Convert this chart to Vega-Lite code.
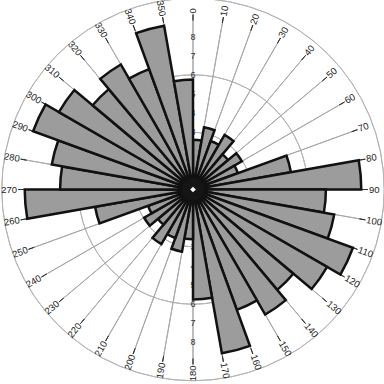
{
  "$schema": "https://vega.github.io/schema/vega-lite/v6.json",
  "width": 382,
  "height": 379,
  "autosize": {"type": "none"},
  "padding": {"left": 2, "top": 0, "right": 0, "bottom": 5},
  "background": "white",
  "config": {"view": {"stroke": null}},
  "datasets": {
    "bins": [
      {"start": 0, "end": 10, "value": 2.6},
      {"start": 10, "end": 20, "value": 3.3},
      {"start": 20, "end": 30, "value": 2.7},
      {"start": 30, "end": 40, "value": 3.3},
      {"start": 40, "end": 50, "value": 2.4},
      {"start": 50, "end": 60, "value": 2.95},
      {"start": 60, "end": 70, "value": 2.5},
      {"start": 70, "end": 80, "value": 5.2},
      {"start": 80, "end": 90, "value": 8.8},
      {"start": 90, "end": 100, "value": 6.95},
      {"start": 100, "end": 110, "value": 7.5},
      {"start": 110, "end": 120, "value": 8.9},
      {"start": 120, "end": 130, "value": 8.1},
      {"start": 130, "end": 140, "value": 6.85},
      {"start": 140, "end": 150, "value": 7.55},
      {"start": 150, "end": 160, "value": 6.7},
      {"start": 160, "end": 170, "value": 8.7},
      {"start": 170, "end": 180, "value": 5.75},
      {"start": 180, "end": 190, "value": 2.6},
      {"start": 190, "end": 200, "value": 3.3},
      {"start": 200, "end": 210, "value": 2.7},
      {"start": 210, "end": 220, "value": 3.3},
      {"start": 220, "end": 230, "value": 2.4},
      {"start": 230, "end": 240, "value": 2.95},
      {"start": 240, "end": 250, "value": 2.5},
      {"start": 250, "end": 260, "value": 5.2},
      {"start": 260, "end": 270, "value": 8.8},
      {"start": 270, "end": 280, "value": 6.95},
      {"start": 280, "end": 290, "value": 7.5},
      {"start": 290, "end": 300, "value": 8.9},
      {"start": 300, "end": 310, "value": 8.1},
      {"start": 310, "end": 320, "value": 6.85},
      {"start": 320, "end": 330, "value": 7.55},
      {"start": 330, "end": 340, "value": 6.7},
      {"start": 340, "end": 350, "value": 8.7},
      {"start": 350, "end": 360, "value": 5.75}
    ],
    "rings": [{"r": 1}, {"r": 2}, {"r": 3}, {"r": 4}, {"r": 5}, {"r": 6}, {"r": 7}, {"r": 8}],
    "spokes": [
      {"angle": 0}, {"angle": 10}, {"angle": 20}, {"angle": 30}, {"angle": 40}, {"angle": 50},
      {"angle": 60}, {"angle": 70}, {"angle": 80}, {"angle": 90}, {"angle": 100}, {"angle": 110},
      {"angle": 120}, {"angle": 130}, {"angle": 140}, {"angle": 150}, {"angle": 160}, {"angle": 170},
      {"angle": 180}, {"angle": 190}, {"angle": 200}, {"angle": 210}, {"angle": 220}, {"angle": 230},
      {"angle": 240}, {"angle": 250}, {"angle": 260}, {"angle": 270}, {"angle": 280}, {"angle": 290},
      {"angle": 300}, {"angle": 310}, {"angle": 320}, {"angle": 330}, {"angle": 340}, {"angle": 350}
    ],
    "one": [{"c": 0}]
  },
  "resolve": {"scale": {"angle": "independent"}},
  "layer": [
    {
      "data": {"name": "rings"},
      "mark": {"type": "arc", "theta": 0, "theta2": 6.2832, "filled": false, "fill": null, "stroke": "#b4b4b4", "strokeWidth": 1},
      "encoding": {
        "radius": {"field": "r", "type": "quantitative", "scale": {"domain": [0, 9], "range": [0, 172.1], "zero": true}, "legend": null}
      }
    },
    {
      "data": {"name": "spokes"},
      "mark": {"type": "arc", "filled": false, "fill": null, "stroke": "#a8a8a8", "strokeWidth": 1},
      "encoding": {
        "theta": {"field": "angle", "type": "quantitative", "stack": null, "scale": {"domain": [0, 360], "range": [0, 6.283185307]}},
        "theta2": {"field": "angle"},
        "radius": {"value": 169}
      }
    },
    {
      "data": {"name": "spokes"},
      "mark": {"type": "arc", "filled": false, "fill": null, "stroke": "#333333", "strokeWidth": 1},
      "encoding": {
        "theta": {"field": "angle", "type": "quantitative", "stack": null, "scale": {"domain": [0, 360], "range": [0, 6.283185307]}},
        "theta2": {"field": "angle"},
        "radius": {"value": 175},
        "radius2": {"value": 169}
      }
    },
    {
      "data": {"name": "rings"},
      "mark": {"type": "text", "align": "center", "baseline": "middle", "font": "Liberation Sans", "fontSize": 9, "fill": "#333333"},
      "encoding": {
        "theta": {"value": 0},
        "radius": {"field": "r", "type": "quantitative", "scale": {"domain": [0, 9], "range": [0, 172.1], "zero": true}},
        "text": {"field": "r", "type": "quantitative", "format": "d"}
      }
    },
    {
      "data": {"name": "rings"},
      "mark": {"type": "text", "align": "center", "baseline": "middle", "font": "Liberation Sans", "fontSize": 9, "fill": "#333333"},
      "encoding": {
        "theta": {"value": 3.14159265},
        "radius": {"field": "r", "type": "quantitative", "scale": {"domain": [0, 9], "range": [0, 172.1], "zero": true}},
        "text": {"field": "r", "type": "quantitative", "format": "d"}
      }
    },
    {
      "data": {"name": "bins"},
      "mark": {"type": "arc", "fill": "#9c9c9c", "stroke": "#111111", "strokeWidth": 2.5, "strokeJoin": "miter"},
      "encoding": {
        "theta": {"field": "start", "type": "quantitative", "stack": null, "scale": {"domain": [0, 360], "range": [0, 6.283185307]}},
        "theta2": {"field": "end"},
        "radius": {"field": "value", "type": "quantitative", "scale": {"domain": [0, 9], "range": [0, 172.1], "zero": true}}
      }
    },
    {
      "data": {"name": "one"},
      "mark": {"type": "arc", "theta": 0, "theta2": 6.2832, "radius": 11, "fill": "#151515", "stroke": null},
      "encoding": {}
    },
    {
      "data": {"name": "one"},
      "mark": {"type": "point", "shape": "diamond", "size": 32, "filled": true, "fill": "white", "opacity": 1, "stroke": null},
      "encoding": {}
    },
    {
      "data": {"name": "spokes"},
      "transform": [{"filter": "datum.angle < 180"}],
      "mark": {"type": "text", "align": "left", "baseline": "middle", "font": "Liberation Sans", "fontSize": 9.5, "fill": "#222222"},
      "encoding": {
        "theta": {"field": "angle", "type": "quantitative", "stack": null, "scale": {"domain": [0, 360], "range": [0, 6.283185307]}},
        "radius": {"value": 176},
        "text": {"field": "angle", "type": "quantitative", "format": "d"},
        "angle": {"field": "angle", "type": "quantitative", "scale": {"domain": [0, 180], "range": [-90, 90]}, "legend": null}
      }
    },
    {
      "data": {"name": "spokes"},
      "transform": [{"filter": "datum.angle >= 180"}],
      "mark": {"type": "text", "align": "right", "baseline": "middle", "font": "Liberation Sans", "fontSize": 9.5, "fill": "#222222"},
      "encoding": {
        "theta": {"field": "angle", "type": "quantitative", "stack": null, "scale": {"domain": [0, 360], "range": [0, 6.283185307]}},
        "radius": {"value": 176},
        "text": {"field": "angle", "type": "quantitative", "format": "d"},
        "angle": {"field": "angle", "type": "quantitative", "scale": {"domain": [180, 360], "range": [-90, 90]}, "legend": null}
      }
    }
  ]
}
